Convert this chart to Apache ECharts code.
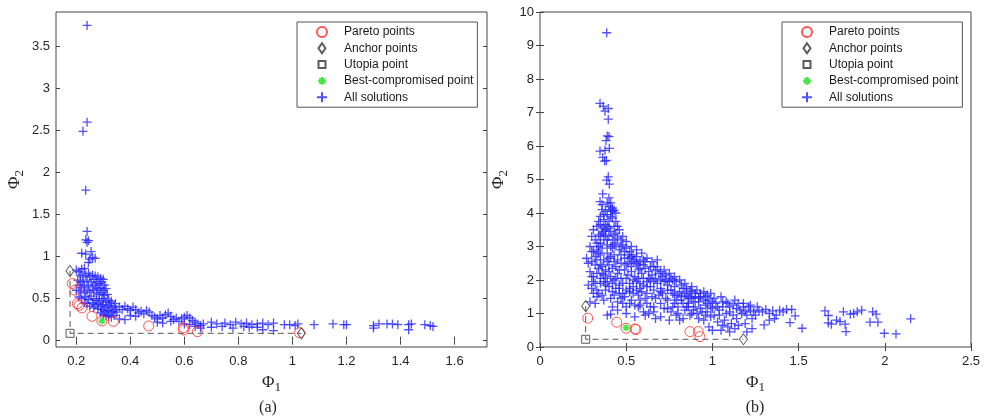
<!DOCTYPE html>
<html>
<head>
<meta charset="utf-8">
<script src="https://cdn.jsdelivr.net/npm/echarts@6/dist/echarts.min.js"></script>
<style>
  html, body { margin: 0; padding: 0; background: #fff; }
  #chart { width: 990px; height: 419px; }
</style>
</head>
<body>
<div id="chart"></div>
<script>
// ---- panel (a) ----
const xTicksA = [0.2, 0.4, 0.6, 0.8, 1, 1.2, 1.4, 1.6]
const yTicksA = [0, 0.5, 1, 1.5, 2, 2.5, 3, 3.5]

const solutionsA = [
  [0.24, 3.75], [0.225, 2.49], [0.24, 2.6], [0.235, 1.79], [0.24, 1.3], [0.235, 1.2], [0.245, 1.19], [0.24, 1.17],
  [0.255, 1.06], [0.22, 1.04], [0.235, 1.03], [0.26, 0.99], [0.25, 0.97], [0.245, 0.93], [0.27, 0.98],
  [0.2, 0.84], [0.21, 0.82], [0.22, 0.85], [0.23, 0.86], [0.215, 0.78], [0.225, 0.76], [0.235, 0.78], [0.245, 0.8],
  [0.25, 0.77], [0.26, 0.78], [0.27, 0.77], [0.28, 0.76], [0.29, 0.74], [0.3, 0.73], [0.205, 0.72], [0.215, 0.7],
  [0.225, 0.7], [0.24, 0.72], [0.255, 0.7], [0.265, 0.73], [0.275, 0.7], [0.285, 0.68], [0.295, 0.7], [0.305, 0.66],
  [0.21, 0.66], [0.22, 0.63], [0.23, 0.65], [0.245, 0.66], [0.26, 0.64], [0.27, 0.66], [0.28, 0.62], [0.29, 0.63],
  [0.3, 0.6], [0.31, 0.62], [0.2, 0.6], [0.215, 0.58], [0.23, 0.57], [0.24, 0.6], [0.25, 0.58], [0.265, 0.6],
  [0.275, 0.57], [0.285, 0.55], [0.295, 0.57], [0.305, 0.54], [0.315, 0.55],
  [0.21, 0.52], [0.22, 0.5], [0.235, 0.52], [0.245, 0.49], [0.255, 0.53], [0.265, 0.5], [0.275, 0.48], [0.285, 0.5],
  [0.295, 0.47], [0.3, 0.5], [0.31, 0.46], [0.32, 0.48], [0.325, 0.45], [0.33, 0.47], [0.23, 0.45], [0.24, 0.44],
  [0.26, 0.45], [0.27, 0.43], [0.28, 0.44], [0.29, 0.41], [0.3, 0.43], [0.31, 0.4], [0.32, 0.42], [0.33, 0.39],
  [0.34, 0.41], [0.345, 0.44], [0.25, 0.41], [0.265, 0.39], [0.28, 0.38], [0.295, 0.37], [0.305, 0.35], [0.315, 0.36],
  [0.325, 0.33], [0.335, 0.35], [0.345, 0.37], [0.35, 0.34], [0.3, 0.31], [0.31, 0.3], [0.32, 0.29], [0.33, 0.28],
  [0.34, 0.3], [0.29, 0.33],
  [0.36, 0.4], [0.37, 0.37], [0.38, 0.41], [0.39, 0.38], [0.4, 0.36], [0.41, 0.4], [0.42, 0.37], [0.43, 0.33],
  [0.44, 0.35], [0.45, 0.32], [0.46, 0.36], [0.47, 0.34], [0.48, 0.3], [0.49, 0.28], [0.5, 0.26], [0.51, 0.3],
  [0.52, 0.27], [0.53, 0.31], [0.54, 0.33], [0.55, 0.29], [0.56, 0.25], [0.57, 0.27], [0.58, 0.23], [0.59, 0.26],
  [0.6, 0.28], [0.61, 0.3], [0.62, 0.27], [0.63, 0.24], [0.64, 0.22], [0.65, 0.2], [0.66, 0.18], [0.36, 0.26],
  [0.38, 0.25], [0.4, 0.3], [0.42, 0.29], [0.5, 0.22], [0.52, 0.21], [0.55, 0.23], [0.6, 0.2], [0.62, 0.19],
  [0.64, 0.17], [0.66, 0.15],
  [0.67, 0.2], [0.7, 0.22], [0.72, 0.2], [0.75, 0.21], [0.77, 0.19], [0.79, 0.22], [0.81, 0.2], [0.83, 0.21],
  [0.85, 0.19], [0.87, 0.2], [0.89, 0.21], [0.91, 0.19], [0.93, 0.21], [0.97, 0.19], [0.99, 0.19], [1.01, 0.18],
  [1.02, 0.2], [1.08, 0.19], [1.15, 0.2], [1.19, 0.19], [1.2, 0.19], [1.3, 0.18], [1.32, 0.2], [1.35, 0.2],
  [1.37, 0.2], [1.39, 0.19], [1.43, 0.19], [1.44, 0.2], [1.49, 0.19], [1.51, 0.18], [1.52, 0.17], [0.7, 0.16],
  [0.78, 0.15], [0.84, 0.16], [0.89, 0.13], [0.93, 0.12], [1.3, 0.15], [1.43, 0.13], [0.74, 0.17], [0.82, 0.17],
  [0.87, 0.16]
]
const paretoA = [
  [0.185, 0.68], [0.195, 0.6], [0.204, 0.44], [0.21, 0.42], [0.221, 0.39], [0.258, 0.29], [0.295, 0.235],
  [0.337, 0.23], [0.468, 0.175], [0.597, 0.155], [0.597, 0.127], [0.648, 0.107], [1.026, 0.095]
]
const anchorA = [[0.177, 0.83], [1.033, 0.088]]
const utopiaA = [[0.177, 0.088]]
const bestA = [[0.295, 0.235]]

// ---- panel (b) ----
const xTicksB = [0, 0.5, 1, 1.5, 2, 2.5]
const yTicksB = [0, 1, 2, 3, 4, 5, 6, 7, 8, 9, 10]

const solutionsB = [
  [0.387, 9.38], [0.348, 7.27], [0.367, 7.19], [0.396, 7.12], [0.377, 7.04], [0.396, 6.8], [0.39, 6.3], [0.383, 6.16],
  [0.4, 6.28], [0.348, 5.85], [0.377, 5.87], [0.402, 5.93], [0.364, 5.66], [0.385, 5.57], [0.375, 5.55], [0.396, 5.08],
  [0.387, 4.98], [0.402, 4.86], [0.364, 4.57], [0.348, 4.34], [0.41, 4.3], [0.4, 4.45],
  [0.36, 4.1], [0.38, 4.05], [0.4, 4.2], [0.41, 4.1], [0.42, 4.05], [0.43, 4.08], [0.44, 4.0], [0.39, 3.95],
  [0.35, 3.9], [0.37, 3.8], [0.4, 3.75], [0.42, 3.85], [0.45, 3.6], [0.33, 3.6], [0.36, 3.55], [0.38, 3.5],
  [0.41, 3.45], [0.43, 3.35], [0.46, 3.5], [0.48, 3.3],
  [0.3, 3.3], [0.32, 3.2], [0.34, 3.35], [0.35, 3.1], [0.37, 3.2], [0.39, 3.05], [0.4, 3.3], [0.42, 2.95],
  [0.44, 3.1], [0.46, 2.9], [0.48, 3.05], [0.5, 2.95], [0.52, 2.85], [0.54, 2.75], [0.56, 2.7], [0.55, 2.6],
  [0.58, 2.55], [0.6, 2.45], [0.29, 3.0], [0.31, 2.85], [0.33, 2.9], [0.35, 2.75], [0.37, 2.6], [0.39, 2.8],
  [0.41, 2.7], [0.43, 2.75], [0.45, 2.6], [0.47, 2.5], [0.49, 2.65], [0.51, 2.5], [0.53, 2.4], [0.27, 2.65],
  [0.28, 2.5], [0.3, 2.55], [0.32, 2.45], [0.34, 2.35], [0.36, 2.4], [0.38, 2.3], [0.4, 2.45], [0.42, 2.35],
  [0.29, 2.25], [0.31, 2.1], [0.33, 2.2], [0.35, 2.05], [0.37, 2.15], [0.39, 1.95], [0.41, 2.1], [0.43, 2.0],
  [0.45, 2.2], [0.47, 2.05], [0.49, 2.3], [0.51, 2.15], [0.53, 2.25], [0.55, 2.1], [0.57, 2.3], [0.59, 2.2],
  [0.61, 2.35], [0.63, 2.25], [0.65, 2.15], [0.67, 2.05], [0.69, 2.2], [0.71, 2.1], [0.28, 1.85], [0.3, 1.75],
  [0.32, 1.9], [0.34, 1.6], [0.36, 1.55], [0.38, 1.7], [0.4, 1.8], [0.42, 1.65], [0.44, 1.75], [0.46, 1.85],
  [0.48, 1.6], [0.5, 1.7], [0.52, 1.9], [0.54, 1.8], [0.56, 1.95], [0.58, 1.75], [0.6, 1.85], [0.62, 1.95],
  [0.64, 1.8], [0.66, 1.7], [0.68, 1.9], [0.7, 1.75], [0.72, 1.95], [0.74, 1.85], [0.76, 1.7], [0.78, 1.8],
  [0.29, 1.35], [0.33, 1.5], [0.37, 1.4], [0.41, 1.45], [0.45, 1.35], [0.49, 1.5], [0.53, 1.4], [0.57, 1.55],
  [0.61, 1.45], [0.65, 1.5], [0.69, 1.55], [0.73, 1.45], [0.77, 1.6], [0.81, 1.65], [0.85, 1.55], [0.83, 1.75],
  [0.87, 1.5],
  [0.39, 0.95], [0.41, 0.98], [0.45, 1.1], [0.5, 1.2], [0.55, 0.9], [0.6, 1.05], [0.63, 1.0], [0.67, 0.85],
  [0.7, 0.9], [0.75, 0.8], [0.79, 0.95], [0.52, 1.3], [0.58, 1.25], [0.62, 1.3], [0.66, 1.2], [0.7, 1.3],
  [0.74, 1.15], [0.78, 1.3], [0.8, 1.2], [0.82, 1.4], [0.84, 1.1], [0.86, 1.3], [0.88, 1.45], [0.9, 1.2],
  [0.92, 1.35], [0.94, 1.05], [0.96, 1.25], [0.98, 1.4], [1.0, 1.15], [1.02, 1.3], [1.04, 0.95], [1.06, 1.2],
  [1.08, 1.35], [1.1, 1.05], [1.12, 1.25], [1.14, 0.85], [1.16, 1.1], [1.18, 1.2], [1.2, 0.95], [1.22, 1.1],
  [1.24, 1.05], [0.83, 0.85], [0.87, 0.95], [0.91, 1.0], [0.95, 0.8], [0.99, 0.9], [1.03, 0.75], [1.07, 0.8],
  [1.11, 0.7], [1.15, 0.65], [1.19, 0.7], [1.23, 0.55], [0.98, 0.6], [1.0, 0.5], [1.05, 0.5], [1.1, 0.45],
  [1.2, 0.45], [1.13, 0.55], [0.9, 1.6], [0.93, 1.5], [0.97, 1.55], [1.01, 1.45], [1.05, 1.5], [1.09, 1.3],
  [1.13, 1.4], [1.17, 1.0],
  [0.31, 3.5], [0.34, 3.75], [0.36, 3.4], [0.38, 3.65], [0.4, 3.55], [0.42, 3.2], [0.44, 3.4], [0.47, 3.2],
  [0.5, 3.15], [0.53, 3.0], [0.56, 2.9], [0.59, 2.8], [0.62, 2.65], [0.65, 2.55], [0.68, 2.4], [0.72, 2.3],
  [0.75, 2.2], [0.78, 2.1], [0.81, 2.0], [0.84, 1.9], [0.88, 1.8], [0.91, 1.7], [0.95, 1.65], [0.99, 1.6],
  [0.33, 2.6], [0.36, 2.95], [0.39, 2.55], [0.44, 2.4], [0.46, 2.3], [0.5, 2.45], [0.54, 2.55], [0.57, 2.05],
  [0.6, 2.6], [0.63, 2.05], [0.66, 2.4], [0.68, 2.6], [0.73, 2.0], [0.77, 2.0], [0.8, 1.55], [0.84, 1.6],
  [0.87, 1.7], [0.89, 1.35], [0.92, 1.45], [0.95, 1.4], [0.97, 1.3], [0.99, 1.2], [0.42, 1.2], [0.46, 1.6],
  [0.5, 1.0], [0.54, 1.6], [0.58, 1.4], [0.62, 1.6], [0.64, 1.2], [0.67, 1.45], [0.71, 1.6], [0.74, 1.4],
  [0.76, 1.05], [0.8, 1.0], [0.81, 0.8], [0.85, 1.2], [0.89, 1.1], [0.93, 1.15], [0.97, 1.05], [1.01, 0.95],
  [1.04, 1.1], [1.08, 1.0], [1.12, 0.95], [1.15, 1.3], [1.19, 1.05], [1.21, 1.2], [1.23, 0.85], [1.25, 0.95],
  [0.35, 1.9], [0.33, 1.7], [0.38, 1.85], [0.43, 1.55], [0.47, 1.45], [0.52, 1.65], [0.55, 1.25], [0.59, 1.65],
  [0.62, 1.8], [0.6, 2.05], [0.64, 2.0], [0.7, 2.0], [0.75, 1.95], [0.79, 1.4], [0.83, 1.3], [0.86, 1.45],
  [0.4, 2.65], [0.43, 2.55], [0.47, 2.75], [0.52, 2.65], [0.57, 2.45], [0.41, 3.0], [0.38, 3.35], [0.35, 3.65],
  [0.34, 3.0], [0.32, 2.7], [0.3, 2.1], [0.31, 1.6], [0.32, 1.3],
  [0.36, 4.25], [0.39, 4.3], [0.42, 4.15], [0.37, 3.95], [0.41, 3.9], [0.44, 3.75], [0.39, 3.6], [0.43, 3.6],
  [0.35, 3.3], [0.37, 3.45], [0.39, 3.2], [0.43, 3.05], [0.45, 3.25], [0.47, 3.0], [0.49, 2.85], [0.51, 2.75],
  [0.53, 2.7], [0.56, 2.5], [0.58, 2.35], [0.61, 2.55], [0.64, 2.4], [0.67, 2.3], [0.7, 2.25], [0.73, 2.15],
  [0.76, 2.05], [0.79, 1.95], [0.82, 1.85], [0.85, 1.75], [0.88, 1.65], [0.9, 1.5], [0.93, 1.6], [0.96, 1.5],
  [1.0, 1.35], [1.03, 1.2], [1.06, 1.35], [1.1, 1.2], [1.14, 1.15], [1.18, 1.3], [1.22, 1.25], [1.26, 1.2],
  [0.34, 2.8], [0.36, 2.2], [0.38, 2.05], [0.4, 2.25], [0.42, 1.9], [0.44, 2.05], [0.46, 1.75], [0.48, 1.9],
  [0.5, 2.05], [0.52, 1.75], [0.54, 2.0], [0.56, 1.7], [0.58, 1.9], [0.66, 1.95], [0.7, 1.65], [0.74, 1.7],
  [0.78, 1.55], [0.82, 1.5], [0.86, 1.2], [0.88, 1.0], [0.92, 0.85], [0.96, 0.95], [1.06, 0.65], [1.09, 0.6],
  [0.3, 2.85], [0.33, 3.1], [0.35, 2.45], [0.37, 1.95], [0.31, 1.95], [0.48, 1.3], [0.57, 1.2], [0.61, 0.95],
  [0.66, 1.05], [0.72, 1.15], [0.77, 1.2],
  [1.27, 1.1], [1.29, 1.05], [1.31, 1.12], [1.33, 1.0], [1.35, 1.08], [1.37, 0.95], [1.39, 1.1], [1.41, 1.05],
  [1.43, 1.12], [1.46, 1.12], [1.48, 0.93], [1.45, 0.73], [1.52, 0.56], [1.3, 0.66], [1.33, 0.8], [1.36, 0.85],
  [1.653, 1.08], [1.672, 0.94], [1.672, 0.72], [1.69, 0.68], [1.72, 0.8], [1.74, 0.76], [1.77, 0.68], [1.775, 0.46],
  [1.76, 1.05], [1.8, 0.98], [1.82, 1.0], [1.84, 1.05], [1.866, 1.1], [1.93, 1.05], [1.95, 0.98], [1.914, 0.74],
  [1.96, 0.74], [1.997, 0.41], [2.065, 0.39], [2.15, 0.84]
]
const paretoB = [
  [0.277, 0.86], [0.445, 0.74], [0.499, 0.56], [0.551, 0.54], [0.557, 0.52], [0.87, 0.46], [0.918, 0.46], [0.928, 0.31]
]
const anchorB = [[0.265, 1.22], [1.18, 0.23]]
const utopiaB = [[0.265, 0.23]]
const bestB = [[0.499, 0.575]]

const legendNames = ['Pareto points', 'Anchor points', 'Utopia point', 'Best-compromised point', 'All solutions']

const PLUS = 'path://M0,5L10,5M5,0L5,10'
const STAR = 'path://M0,5L10,5M5,0L5,10M1.5,1.5L8.5,8.5M8.5,1.5L1.5,8.5'
const DIAMOND = 'path://M4,0L8,5.5L4,11L0,5.5Z'
// legend icons get scaled to the item height, so pad the small ones with empty moves
const SQUARE_ICON = 'path://M-1.5,-1.5M8.5,8.5M0,0L7,0L7,7L0,7Z'
const STAR_ICON = 'path://M-1.5,-1.5M11.5,11.5M0,5L10,5M5,0L5,10M1.5,1.5L8.5,8.5M8.5,1.5L1.5,8.5'
const DIAMOND_ICON = 'path://M4,0L7.5,5L4,10L0.5,5Z'
const BOX = '#444'
const TEXT = '#262626'

function xAxes(grid, min, max, ticks, name) {
  const base = {
    type: 'value', gridIndex: grid, min, max,
    axisLine: { show: false },
    splitLine: { show: false },
    axisTick: { inside: true, length: 4, lineStyle: { color: BOX }, customValues: ticks }
  }
  return [
    {
      ...base, position: 'bottom',
      name, nameLocation: 'middle', nameGap: 24,
      nameTextStyle: {
        color: TEXT,
        rich: {
          p: { fontFamily: 'Liberation Serif', fontSize: 17, color: TEXT },
          s: { fontFamily: 'Liberation Serif', fontSize: 13, color: TEXT, padding: [10, 0, 0, 0] }
        }
      },
      axisLabel: { color: TEXT, fontSize: 13, fontFamily: 'Liberation Sans', margin: 8, customValues: ticks }
    },
    { ...base, position: 'top', axisLabel: { show: false } }
  ]
}

function yAxes(grid, min, max, ticks, name) {
  const base = {
    type: 'value', gridIndex: grid, min, max,
    axisLine: { show: false },
    splitLine: { show: false },
    axisTick: { inside: true, length: 4, lineStyle: { color: BOX }, customValues: ticks }
  }
  return [
    {
      ...base, position: 'left',
      name, nameLocation: 'middle', nameGap: 30, nameRotate: 90,
      nameTextStyle: {
        color: TEXT,
        rich: {
          p: { fontFamily: 'Liberation Serif', fontSize: 17, color: TEXT },
          s: { fontFamily: 'Liberation Serif', fontSize: 13, color: TEXT, padding: [10, 0, 0, 0] }
        }
      },
      axisLabel: { color: TEXT, fontSize: 13, fontFamily: 'Liberation Sans', margin: 6, customValues: ticks }
    },
    { ...base, position: 'right', axisLabel: { show: false } }
  ]
}

function panelSeries(axisIdx, solutions, pareto, anchor, utopia, best) {
  const ax = { xAxisIndex: axisIdx, yAxisIndex: axisIdx }
  return [
    {
      ...ax, type: 'scatter', name: 'All solutions', data: solutions,
      symbol: PLUS, symbolSize: 9,
      itemStyle: { color: 'transparent', borderColor: '#2424ff', borderWidth: 1.3 }
    },
    {
      ...ax, type: 'line', name: 'front', data: [anchor[0], utopia[0], anchor[1]],
      symbol: 'none', lineStyle: { color: '#555', width: 1, type: [6, 4] }
    },
    {
      ...ax, type: 'scatter', name: 'Pareto points', data: pareto,
      symbol: 'circle', symbolSize: 10,
      itemStyle: { color: 'transparent', borderColor: '#ff2a2a', borderWidth: 1 }
    },
    {
      ...ax, type: 'scatter', name: 'Anchor points', data: anchor,
      symbol: DIAMOND, symbolSize: [8, 11],
      itemStyle: { color: 'transparent', borderColor: '#333', borderWidth: 1 }
    },
    {
      ...ax, type: 'scatter', name: 'Utopia point', data: utopia,
      symbol: 'rect', symbolSize: 8,
      itemStyle: { color: 'transparent', borderColor: '#333', borderWidth: 1 }
    },
    {
      ...ax, type: 'scatter', name: 'Best-compromised point', data: best,
      symbol: STAR, symbolSize: 7,
      itemStyle: { color: 'transparent', borderColor: '#18e018', borderWidth: 1.6 }
    }
  ]
}

function legendAt(left) {
  const icons = ['circle', DIAMOND_ICON, SQUARE_ICON, STAR_ICON, PLUS]
  return {
    data: legendNames.map((name, i) => ({ name, icon: icons[i] })),
    orient: 'vertical', left, top: 22,
    padding: [4, 4, 4, 19], itemWidth: 34, itemHeight: 10, itemGap: 4.3,
    backgroundColor: '#fff', borderColor: '#555', borderWidth: 1, borderRadius: 0,
    selectedMode: false,
    textStyle: { color: '#1a1a1a', fontSize: 12, fontFamily: 'Liberation Sans', padding: [0, 0, 0, 0] }
  }
}

const chart = echarts.init(document.getElementById('chart'))
chart.setOption({
  animation: false,
  backgroundColor: '#fff',
  grid: [
    { left: 56, right: 503, top: 12, bottom: 72, show: true, borderColor: BOX, borderWidth: 1, outerBoundsMode: 'none' },
    { left: 540, right: 19, top: 12, bottom: 72, show: true, borderColor: BOX, borderWidth: 1, outerBoundsMode: 'none' }
  ],
  xAxis: [
    ...xAxes(0, 0.125, 1.72, xTicksA, '{p|Φ}{s|1}'),
    ...xAxes(1, 0, 2.5, xTicksB, '{p|Φ}{s|1}')
  ],
  yAxis: [
    ...yAxes(0, -0.075, 3.91, yTicksA, '{p|Φ}{s|2}'),
    ...yAxes(1, 0, 10, yTicksB, '{p|Φ}{s|2}')
  ],
  legend: [legendAt(297), legendAt(782)],
  series: [
    ...panelSeries(0, solutionsA, paretoA, anchorA, utopiaA, bestA),
    ...panelSeries(2, solutionsB, paretoB, anchorB, utopiaB, bestB)
  ],
  graphic: [
    { type: 'text', x: 268, y: 408, style: { text: '(a)', font: '16px "Liberation Serif"', fill: TEXT, align: 'center', verticalAlign: 'middle' } },
    { type: 'text', x: 755, y: 408, style: { text: '(b)', font: '16px "Liberation Serif"', fill: TEXT, align: 'center', verticalAlign: 'middle' } }
  ]
})
</script>
</body>
</html>
